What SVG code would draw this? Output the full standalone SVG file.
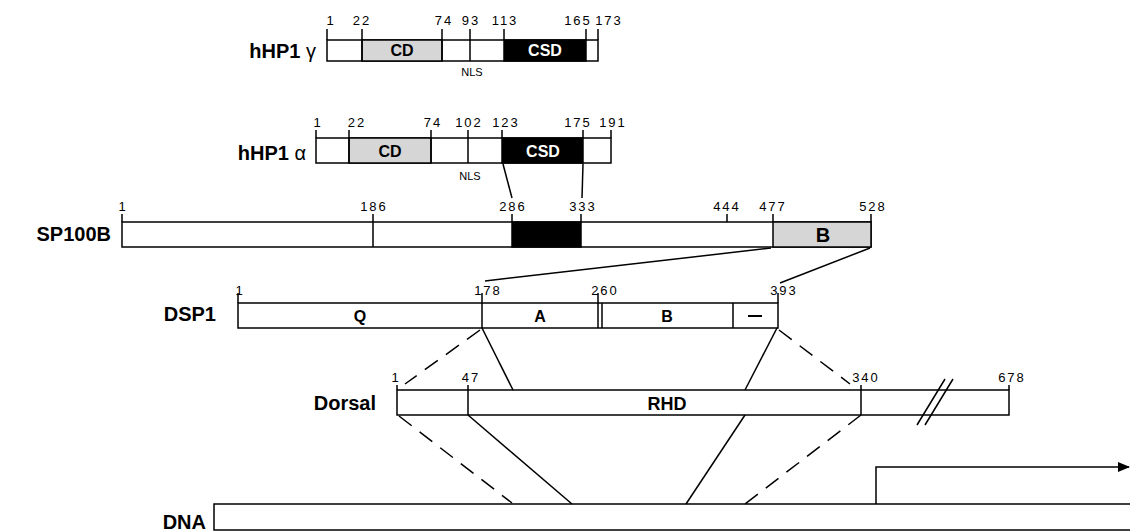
<svg xmlns="http://www.w3.org/2000/svg" width="1130" height="531" viewBox="0 0 1130 531">
<style>
.box{fill:#fff;stroke:#000;stroke-width:1.5}
.blk{fill:#000;stroke:#000;stroke-width:1.5}
.gry{fill:#d6d6d6;stroke:#000;stroke-width:1.5}
.ln{stroke:#000;stroke-width:1.5;fill:none}
.dash{stroke:#000;stroke-width:1.5;fill:none;stroke-dasharray:16 10}
.num{font-family:"Liberation Sans",Arial,sans-serif;font-size:13px;letter-spacing:2px;text-anchor:middle;fill:#000}
.lab{font-family:"Liberation Sans",Arial,sans-serif;font-size:20px;font-weight:bold;text-anchor:end;fill:#000}
.in{font-family:"Liberation Sans",Arial,sans-serif;font-size:16px;font-weight:bold;text-anchor:middle;fill:#000}
.inw{font-family:"Liberation Sans",Arial,sans-serif;font-size:16px;font-weight:bold;text-anchor:middle;fill:#fff}
.sm{font-family:"Liberation Sans",Arial,sans-serif;font-size:11px;text-anchor:middle;fill:#000}
.gk{font-weight:normal}
</style>
<defs>
<marker id="ah" viewBox="0 0 12 10" refX="11" refY="5" markerWidth="12" markerHeight="10" markerUnits="userSpaceOnUse" orient="auto"><path d="M0,0 L12,5 L0,10 z" fill="#000"/></marker>
</defs>

<g id="hHP1g">
<text class="lab" x="316" y="58">hHP1 <tspan class="gk">γ</tspan></text>
<rect class="box" x="327" y="40" width="271" height="21"/>
<rect class="gry" x="362" y="40" width="80" height="21"/>
<rect class="blk" x="504" y="40" width="82" height="21"/>
<path class="ln" d="M327 29V40M362 29V61M442 29V61M470 29V61M504 29V40M586 29V40M598 29V40"/>
<text class="num" x="331" y="25">1</text>
<text class="num" x="362" y="25">22</text>
<text class="num" x="444" y="25">74</text>
<text class="num" x="471" y="25">93</text>
<text class="num" x="505" y="25">113</text>
<text class="num" x="578" y="25">165</text>
<text class="num" x="609" y="25">173</text>
<text class="in" x="402" y="56">CD</text>
<text class="inw" x="545" y="56">CSD</text>
<text class="sm" x="472" y="76">NLS</text>
</g>

<g id="hHP1a">
<text class="lab" x="306" y="160">hHP1 <tspan class="gk">α</tspan></text>
<rect class="box" x="316" y="138" width="295" height="25"/>
<rect class="gry" x="349" y="138" width="82" height="25"/>
<rect class="blk" x="502" y="138" width="81" height="25"/>
<path class="ln" d="M316 130V138M349 130V163M431 130V163M468 130V163M502 130V138M583 130V138M611 130V138"/>
<text class="num" x="318" y="127">1</text>
<text class="num" x="357" y="127">22</text>
<text class="num" x="433" y="127">74</text>
<text class="num" x="469" y="127">102</text>
<text class="num" x="506" y="127">123</text>
<text class="num" x="578" y="127">175</text>
<text class="num" x="613" y="127">191</text>
<text class="in" x="390" y="157">CD</text>
<text class="inw" x="543" y="157">CSD</text>
<text class="sm" x="470" y="180">NLS</text>
</g>

<g id="SP100B">
<text class="lab" x="111" y="241">SP100B</text>
<rect class="box" x="122" y="222" width="749" height="25"/>
<rect class="blk" x="512" y="222" width="69" height="25"/>
<rect class="gry" x="773" y="222" width="98" height="25"/>
<path class="ln" d="M122 214V222M373 214V247M512 214V222M581 214V222M727 214V222M773 214V222M871 214V222"/>
<text class="num" x="123" y="211">1</text>
<text class="num" x="374" y="211">186</text>
<text class="num" x="513" y="211">286</text>
<text class="num" x="583" y="211">333</text>
<text class="num" x="727" y="211">444</text>
<text class="num" x="773" y="211">477</text>
<text class="num" x="873" y="211">528</text>
<text class="in" x="823" y="242" style="font-size:20px">B</text>
</g>

<g id="DSP1">
<text class="lab" x="216" y="321">DSP1</text>
<rect class="box" x="238" y="303" width="540" height="25"/>
<path class="ln" d="M238 293V303M482 293V328M598 293V328M602 303V328M733 303V328M778 293V303"/>
<text class="num" x="240" y="295">1</text>
<text class="num" x="488" y="295">178</text>
<text class="num" x="605" y="295">260</text>
<text class="num" x="784" y="295">393</text>
<text class="in" x="360" y="322">Q</text>
<text class="in" x="540" y="322">A</text>
<text class="in" x="667" y="322">B</text>
<path d="M748 316H762" stroke="#000" stroke-width="2"/>
</g>

<g id="Dorsal">
<text class="lab" x="376" y="410">Dorsal</text>
<rect class="box" x="397" y="390" width="612" height="25"/>
<path class="ln" d="M397 385V390M468 385V415M861 385V415M1009 385V390"/>
<text class="num" x="396" y="382">1</text>
<text class="num" x="471" y="382">47</text>
<text class="num" x="866" y="382">340</text>
<text class="num" x="1012" y="382">678</text>
<text class="in" x="667" y="410" style="font-size:18px">RHD</text>
<path class="ln" d="M945 379L917 425M953 379L925 425"/>
</g>

<g id="DNA">
<text class="lab" x="206" y="529">DNA</text>
<rect class="box" x="214" y="504" width="930" height="26"/>
<path class="ln" d="M876 504V467H1129" marker-end="url(#ah)"/>
</g>

<g id="connectors">
<path class="ln" d="M503 164L512 198"/>
<path class="ln" d="M583 164L582 198"/>
<path class="ln" d="M771 248L485 281"/>
<path class="ln" d="M870 248L780 283"/>
<path class="dash" d="M480 330L405 384"/>
<path class="ln" d="M482 328L513 390"/>
<path class="ln" d="M777 328L745 390"/>
<path class="dash" d="M779 330L850 384"/>
<path class="dash" d="M399 416L512 503"/>
<path class="ln" d="M468 415L572 504"/>
<path class="ln" d="M745 415L686 504"/>
<path class="dash" d="M861 415L745 504"/>
</g>
</svg>
